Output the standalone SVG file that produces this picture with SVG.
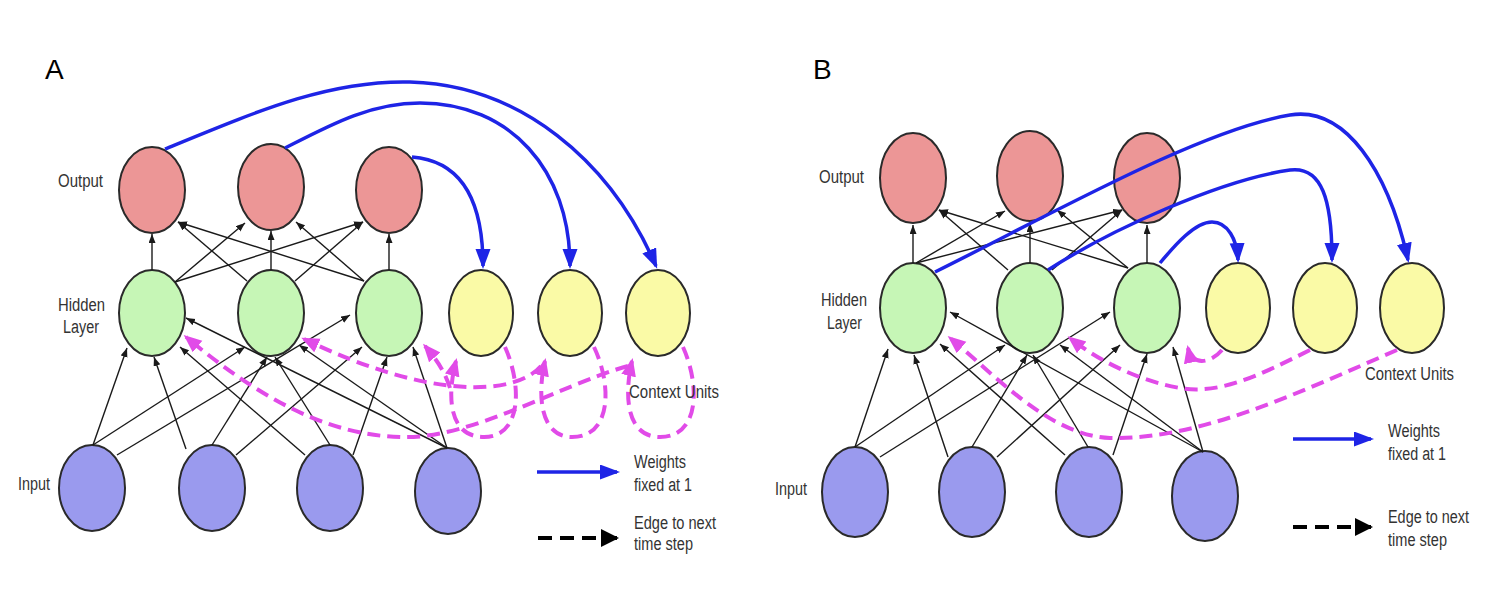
<svg xmlns="http://www.w3.org/2000/svg" width="1502" height="612" viewBox="0 0 1502 612">
<style>
.out{fill:#ec9696;stroke:#2a2a2a;stroke-width:2}
.hid{fill:#c6f6b6;stroke:#2a2a2a;stroke-width:2}
.ctx{fill:#fafaa6;stroke:#2a2a2a;stroke-width:2}
.inp{fill:#9a9aee;stroke:#2a2a2a;stroke-width:2}
.e{stroke:#1a1a1a;stroke-width:1.4;fill:none;marker-end:url(#ah)}
.bl{stroke:#1e24e6;stroke-width:3.5;fill:none;marker-end:url(#bh)}
.pk{stroke:#e14be8;stroke-width:4;fill:none;stroke-dasharray:13 7;marker-end:url(#ph)}
.lbl{font-family:"Liberation Sans",Arial,Helvetica,sans-serif;font-size:18px;fill:#333}
.big{font-family:"Liberation Sans",Arial,Helvetica,sans-serif;font-size:28px;fill:#000}
</style>
<defs>
<marker id="ah" markerUnits="userSpaceOnUse" markerWidth="10" markerHeight="8" refX="9" refY="3.5" orient="auto"><path d="M0,0 L9,3.5 L0,7 z" fill="#1a1a1a"/></marker>
<marker id="bh" markerUnits="userSpaceOnUse" markerWidth="22" markerHeight="16" refX="17" refY="7.5" orient="auto"><path d="M0,0 L20,7.5 L0,15 z" fill="#1e24e6"/></marker>
<marker id="ph" markerUnits="userSpaceOnUse" markerWidth="20" markerHeight="16" refX="15" refY="7.5" orient="auto"><path d="M0,0 L18,7.5 L0,15 z" fill="#e14be8"/></marker>
<marker id="kh" markerUnits="userSpaceOnUse" markerWidth="20" markerHeight="20" refX="16" refY="9" orient="auto"><path d="M0,0 L18,9 L0,18 z" fill="#000"/></marker>
</defs>
<rect width="1502" height="612" fill="#fff"/>

<!-- Panel A nodes -->
<g id="A-output-1"><ellipse class="out" cx="152" cy="190" rx="33" ry="43"/></g>
<g id="A-output-2"><ellipse class="out" cx="271" cy="187" rx="33" ry="43"/></g>
<g id="A-output-3"><ellipse class="out" cx="389" cy="190" rx="33" ry="43"/></g>
<g id="A-hidden-1"><ellipse class="hid" cx="152" cy="313" rx="33" ry="43"/></g>
<g id="A-hidden-2"><ellipse class="hid" cx="271" cy="313" rx="33" ry="43"/></g>
<g id="A-hidden-3"><ellipse class="hid" cx="389" cy="313" rx="33" ry="43"/></g>
<g id="A-context-1"><ellipse class="ctx" cx="481" cy="313" rx="32" ry="43"/></g>
<g id="A-context-2"><ellipse class="ctx" cx="570" cy="313" rx="32" ry="43"/></g>
<g id="A-context-3"><ellipse class="ctx" cx="658" cy="313" rx="32" ry="43"/></g>
<g id="A-input-1"><ellipse class="inp" cx="92" cy="488" rx="33" ry="43"/></g>
<g id="A-input-2"><ellipse class="inp" cx="212" cy="488" rx="33" ry="43"/></g>
<g id="A-input-3"><ellipse class="inp" cx="330" cy="488" rx="33" ry="43"/></g>
<g id="A-input-4"><ellipse class="inp" cx="448" cy="491" rx="33" ry="43"/></g>

<!-- Panel B nodes -->
<g id="B-output-1"><ellipse class="out" cx="913" cy="178" rx="33" ry="45"/></g>
<g id="B-output-2"><ellipse class="out" cx="1030" cy="176" rx="33" ry="45"/></g>
<g id="B-output-3"><ellipse class="out" cx="1147" cy="178" rx="33" ry="45"/></g>
<g id="B-hidden-1"><ellipse class="hid" cx="913" cy="308" rx="33" ry="45"/></g>
<g id="B-hidden-2"><ellipse class="hid" cx="1030" cy="308" rx="33" ry="45"/></g>
<g id="B-hidden-3"><ellipse class="hid" cx="1147" cy="308" rx="33" ry="45"/></g>
<g id="B-context-1"><ellipse class="ctx" cx="1238" cy="308" rx="32" ry="45"/></g>
<g id="B-context-2"><ellipse class="ctx" cx="1325" cy="308" rx="32" ry="45"/></g>
<g id="B-context-3"><ellipse class="ctx" cx="1412" cy="308" rx="32" ry="45"/></g>
<g id="B-input-1"><ellipse class="inp" cx="855" cy="492" rx="33" ry="45"/></g>
<g id="B-input-2"><ellipse class="inp" cx="972" cy="492" rx="33" ry="45"/></g>
<g id="B-input-3"><ellipse class="inp" cx="1089" cy="492" rx="33" ry="45"/></g>
<g id="B-input-4"><ellipse class="inp" cx="1205" cy="496" rx="33" ry="45"/></g>

<g id="connectors">
<!-- Panel A: hidden -> output -->
<line class="e" x1="152" y1="270" x2="152" y2="234"/>
<line class="e" x1="175" y1="282" x2="245" y2="223"/>
<line class="e" x1="175" y1="282" x2="363" y2="222"/>
<line class="e" x1="247" y1="281" x2="178" y2="222"/>
<line class="e" x1="271" y1="270" x2="271" y2="231"/>
<line class="e" x1="295" y1="281" x2="363" y2="222"/>
<line class="e" x1="364" y1="281" x2="178" y2="222"/>
<line class="e" x1="364" y1="281" x2="296" y2="222"/>
<line class="e" x1="389" y1="270" x2="389" y2="234"/>
<!-- Panel A: input -> hidden -->
<line class="e" x1="93" y1="445" x2="127" y2="348"/>
<line class="e" x1="93" y1="445" x2="245" y2="347"/>
<line class="e" x1="117" y1="455" x2="350" y2="315"/>
<line class="e" x1="186" y1="449" x2="154" y2="357"/>
<line class="e" x1="212" y1="445" x2="267" y2="357"/>
<line class="e" x1="236" y1="455" x2="362" y2="347"/>
<line class="e" x1="305" y1="455" x2="180" y2="347"/>
<line class="e" x1="330" y1="445" x2="275" y2="357"/>
<line class="e" x1="353" y1="455" x2="387" y2="357"/>
<line class="e" x1="447" y1="448" x2="186" y2="318"/>
<line class="e" x1="447" y1="448" x2="299" y2="345"/>
<line class="e" x1="447" y1="448" x2="413" y2="347"/>
<!-- Panel A: output -> context (blue) -->
<path class="bl" d="M165,149 C260,110 330,80 410,82 C520,85 610,160 656,266"/>
<path class="bl" d="M285,148 C330,125 370,103 420,103 C510,103 570,170 570,266"/>
<path class="bl" d="M412,157 C450,160 483,185 483,266"/>
<!-- Panel A: pink dashed -->
<path class="pk" d="M505,347 C522,385 522,437 484,437 C448,437 447,395 456,361"/>
<path class="pk" d="M594,347 C612,385 612,437 572,437 C540,437 537,395 545,361"/>
<path class="pk" d="M683,347 C700,385 700,437 660,437 C626,437 624,395 632,361"/>
<path class="pk" d="M450,388 C445,372 437,360 425,346"/>
<path class="pk" d="M541,366 C515,396 430,400 304,339"/>
<path class="pk" d="M628,366 C560,385 470,440 400,437 C320,435 250,390 186,337"/>

<!-- Panel B: hidden -> output -->
<line class="e" x1="913" y1="263" x2="913" y2="225"/>
<line class="e" x1="916" y1="263" x2="1005" y2="211"/>
<line class="e" x1="916" y1="263" x2="1122" y2="210"/>
<line class="e" x1="1008" y1="270" x2="939" y2="210"/>
<line class="e" x1="1030" y1="263" x2="1030" y2="223"/>
<line class="e" x1="1052" y1="270" x2="1122" y2="210"/>
<line class="e" x1="1128" y1="268" x2="939" y2="210"/>
<line class="e" x1="1128" y1="268" x2="1057" y2="210"/>
<line class="e" x1="1147" y1="263" x2="1147" y2="225"/>
<!-- Panel B: input -> hidden -->
<line class="e" x1="855" y1="447" x2="888" y2="349"/>
<line class="e" x1="855" y1="447" x2="1005" y2="345"/>
<line class="e" x1="880" y1="457" x2="1110" y2="312"/>
<line class="e" x1="948" y1="457" x2="914" y2="355"/>
<line class="e" x1="972" y1="447" x2="1027" y2="355"/>
<line class="e" x1="997" y1="457" x2="1120" y2="345"/>
<line class="e" x1="1065" y1="455" x2="940" y2="344"/>
<line class="e" x1="1088" y1="447" x2="1033" y2="355"/>
<line class="e" x1="1113" y1="455" x2="1147" y2="354"/>
<line class="e" x1="1203" y1="452" x2="950" y2="312"/>
<line class="e" x1="1203" y1="452" x2="1060" y2="345"/>
<line class="e" x1="1203" y1="452" x2="1173" y2="347"/>
<!-- Panel B: hidden -> context (blue), drawn over the output units -->
<path class="bl" d="M935,272 C1050,215 1200,130 1290,115 C1345,106 1388,170 1408,260"/>
<path class="bl" d="M1048,270 C1110,230 1220,180 1290,170 C1322,166 1332,200 1332,260"/>
<path class="bl" d="M1160,263 C1175,245 1195,222 1212,222 C1228,222 1237,240 1238,260"/>
<!-- Panel B: context -> hidden (pink) -->
<path class="pk" d="M1222,350 C1210,364 1192,366 1188,348"/>
<path class="pk" d="M1310,350 C1260,375 1220,395 1180,388 C1140,381 1100,362 1070,338"/>
<path class="pk" d="M1397,350 C1300,392 1200,440 1110,438 C1050,436 995,375 950,338"/>

<!-- Legends -->
<line class="bl" x1="537" y1="472" x2="617" y2="472"/>
<line x1="538" y1="538" x2="617" y2="538" stroke="#000" stroke-width="4" stroke-dasharray="14 8" marker-end="url(#kh)"/>
<line class="bl" x1="1293" y1="439" x2="1371" y2="439"/>
<line x1="1293" y1="527" x2="1371" y2="527" stroke="#000" stroke-width="4" stroke-dasharray="14 8" marker-end="url(#kh)"/>
</g>

<g id="labels">
<text class="big" x="45" y="79">A</text>
<text class="big" x="813" y="79">B</text>
<text class="lbl" x="80.5" y="187" text-anchor="middle" textLength="45" lengthAdjust="spacingAndGlyphs">Output</text>
<text class="lbl" x="81.5" y="311" text-anchor="middle" textLength="47" lengthAdjust="spacingAndGlyphs">Hidden</text>
<text class="lbl" x="81" y="333" text-anchor="middle" textLength="36" lengthAdjust="spacingAndGlyphs">Layer</text>
<text class="lbl" x="34" y="490" text-anchor="middle" textLength="32" lengthAdjust="spacingAndGlyphs">Input</text>
<text class="lbl" x="629" y="398" textLength="90" lengthAdjust="spacingAndGlyphs">Context Units</text>
<text class="lbl" x="634" y="468" textLength="52" lengthAdjust="spacingAndGlyphs">Weights</text>
<text class="lbl" x="634" y="491" textLength="58" lengthAdjust="spacingAndGlyphs">fixed at 1</text>
<text class="lbl" x="634" y="529" textLength="82" lengthAdjust="spacingAndGlyphs">Edge to next</text>
<text class="lbl" x="634" y="550" textLength="59" lengthAdjust="spacingAndGlyphs">time step</text>
<text class="lbl" x="841.5" y="183" text-anchor="middle" textLength="45" lengthAdjust="spacingAndGlyphs">Output</text>
<text class="lbl" x="844" y="306" text-anchor="middle" textLength="46" lengthAdjust="spacingAndGlyphs">Hidden</text>
<text class="lbl" x="844.5" y="329" text-anchor="middle" textLength="35" lengthAdjust="spacingAndGlyphs">Layer</text>
<text class="lbl" x="791" y="495" text-anchor="middle" textLength="32" lengthAdjust="spacingAndGlyphs">Input</text>
<text class="lbl" x="1365" y="380" textLength="89" lengthAdjust="spacingAndGlyphs">Context Units</text>
<text class="lbl" x="1388" y="437" textLength="52" lengthAdjust="spacingAndGlyphs">Weights</text>
<text class="lbl" x="1388" y="460" textLength="58" lengthAdjust="spacingAndGlyphs">fixed at 1</text>
<text class="lbl" x="1388" y="523" textLength="81" lengthAdjust="spacingAndGlyphs">Edge to next</text>
<text class="lbl" x="1388" y="546" textLength="59" lengthAdjust="spacingAndGlyphs">time step</text>
</g>
</svg>
